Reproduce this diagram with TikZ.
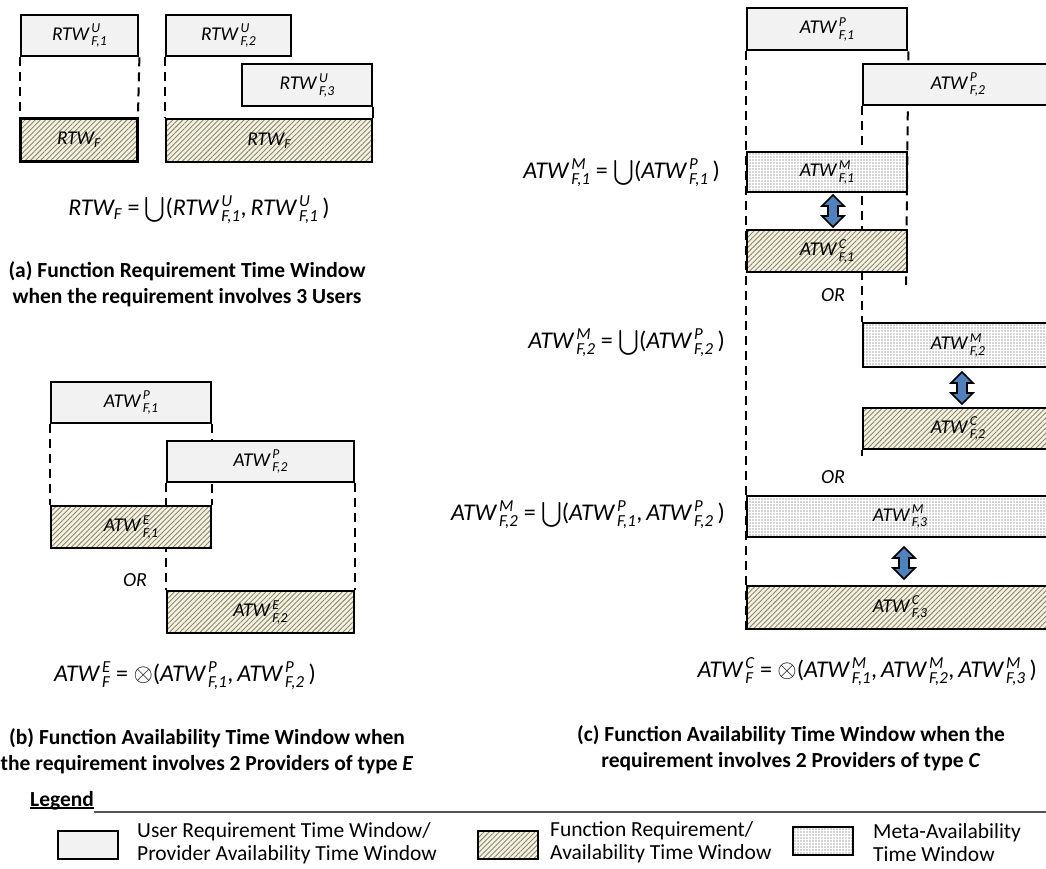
\documentclass[tikz,border=0pt]{standalone}
\usepackage{fontspec}
\usepackage{amsmath}
\setmainfont{Carlito}
\usetikzlibrary{patterns,patterns.meta}

\definecolor{winfill}{HTML}{F2F2F2}
\definecolor{hatchbg}{HTML}{F4F2E6}
\definecolor{hatchln}{HTML}{8E8862}
\definecolor{dotcol}{HTML}{4A4A4A}
\definecolor{arrowblue}{HTML}{4F81BD}
\definecolor{rulegray}{HTML}{555555}

\pgfdeclarelayer{bg}
\pgfsetlayers{bg,main}

% time-window symbol with super- and subscript
\newcommand{\twin}[3]{$\text{\itshape #1}^{\,\text{\itshape #2}}_{\,\text{\itshape #3}}$}
\newcommand{\twsub}[2]{$\text{\itshape #1}_{\text{\itshape #2}}$}
\newcommand{\opunion}{$\bigcup$}
\newcommand{\opprod}{$\otimes$}
\newcommand{\sep}{,\,}

\newcommand{\lblfont}{\fontsize{19.5}{22}\selectfont}
\newcommand{\eqfont}{\fontsize{24}{26}\selectfont}
\newcommand{\capfont}{\fontsize{21.5}{26.5}\selectfont\bfseries}
\newcommand{\legfont}{\fontsize{21.5}{23}\selectfont}

\tikzset{
  box/.style={draw=black, line width=2.4pt, inner sep=0pt, anchor=north west, font=\lblfont},
  userwin/.style={box, fill=winfill},
  funcwin/.style={box, preaction={fill=hatchbg}, pattern={Lines[angle=45,distance=3.6pt,line width=0.9pt]}, pattern color=hatchln},
  metawin/.style={box, preaction={fill=white}, pattern={Dots[distance=3pt,radius=0.6pt]}, pattern color=dotcol},
  guide/.style={line width=2pt, dash pattern=on 9pt off 6pt},
  tick/.style={line width=2pt},
  dblarr/.style={draw=black, line width=1.6pt, fill=arrowblue, line join=miter},
  eq/.style={font=\eqfont, inner sep=0pt},
  ortext/.style={font=\fontsize{20}{22}\selectfont\itshape, inner sep=0pt},
  caption/.style={font=\capfont, align=center, inner sep=0pt},
  legtext/.style={font=\legfont, align=left, anchor=west, inner sep=0pt},
}

% vertical double block arrow centred on a named coordinate
\newcommand{\vdblarrow}[1]{%
  \draw[dblarr, shift={(#1)}] (0,-16) -- (11,-5) -- (5,-5) -- (5,5) -- (11,5) -- (0,16)
        -- (-11,5) -- (-5,5) -- (-5,-5) -- (-11,-5) -- cycle;}

\begin{document}
\begin{tikzpicture}[x=1pt,y=-1pt]
\useasboundingbox (0,0) rectangle (1046,868);

% ---------- (a) requirement time window ----------
\node[userwin, minimum width=117pt, minimum height=41pt] (u1) at (20,14) {\twin{RTW}{U}{F,1}};
\node[userwin, minimum width=125pt, minimum height=41pt] (u2) at (165,14) {\twin{RTW}{U}{F,2}};
\node[userwin, minimum width=130pt, minimum height=42pt] (u3) at (241,63) {\twin{RTW}{U}{F,3}};
\node[funcwin, minimum width=117pt, minimum height=43pt] (fa1) at (20,118) {\twsub{RTW}{F}};
\node[funcwin, minimum width=206pt, minimum height=43pt] (fa2) at (165,118) {\twsub{RTW}{F}};
\begin{pgfonlayer}{bg}
  \draw[guide] (u1.south west) -- (fa1.north west);
  \draw[guide] (u1.south east) -- (fa1.north east);
  \draw[guide] (u2.south west) -- (fa2.north west);
  \draw[tick] (u3.south east) -- (fa2.north east);
\end{pgfonlayer}
\node[eq] (eqa) at (199,210) {\twsub{RTW}{F}\ = \opunion(\twin{RTW}{U}{F,1}\sep\twin{RTW}{U}{F,1}\,)};
\node[caption] (capa) at (187,284) {(a) Function Requirement Time Window\\when the requirement involves 3 Users};

% ---------- (b) availability, providers of type E ----------
\node[userwin, minimum width=160pt, minimum height=41pt] (bp1) at (50,381) {\twin{ATW}{P}{F,1}};
\node[userwin, minimum width=187pt, minimum height=41pt] (bp2) at (166,440) {\twin{ATW}{P}{F,2}};
\node[funcwin, minimum width=160pt, minimum height=42pt] (be1) at (50,505) {\twin{ATW}{E}{F,1}};
\node[funcwin, minimum width=187pt, minimum height=42pt] (be2) at (166,590) {\twin{ATW}{E}{F,2}};
\begin{pgfonlayer}{bg}
  \draw[guide] (bp1.south west) -- (be1.north west);
  \draw[guide] (bp1.south east) -- (be1.north east);
  \draw[guide] (bp2.south west) -- (be2.north west);
  \draw[guide] (bp2.south east) -- (be2.north east);
\end{pgfonlayer}
\node[ortext] (orb) at (135,580) {OR};
\node[eq] (eqb) at (185,676) {\twin{ATW}{E}{F}\ = \opprod(\twin{ATW}{P}{F,1}\sep\twin{ATW}{P}{F,2}\,)};
\node[caption] (capb) at (207,751) {(b) Function Availability Time Window when\\the requirement involves 2 Providers of type \textit{E}};

% ---------- (c) availability, providers of type C ----------
\node[userwin, minimum width=160pt, minimum height=42pt] (cp1) at (746,7) {\twin{ATW}{P}{F,1}};
\node[userwin, minimum width=190pt, minimum height=41pt] (cp2) at (862,63) {\twin{ATW}{P}{F,2}};
\node[metawin, minimum width=160pt, minimum height=40pt] (cm1) at (746,151) {\twin{ATW}{M}{F,1}};
\node[funcwin, minimum width=160pt, minimum height=42pt] (cc1) at (746,229) {\twin{ATW}{C}{F,1}};
\node[metawin, minimum width=190pt, minimum height=44pt] (cm2) at (862,322) {\twin{ATW}{M}{F,2}};
\node[funcwin, minimum width=190pt, minimum height=41pt] (cc2) at (862,407) {\twin{ATW}{C}{F,2}};
\node[metawin, minimum width=306pt, minimum height=41pt] (cm3) at (746,495) {\twin{ATW}{M}{F,3}};
\node[funcwin, minimum width=306pt, minimum height=43pt] (cc3) at (746,585) {\twin{ATW}{C}{F,3}};

\coordinate (ar1) at (833,211);
\coordinate (ar2) at (962,388);
\coordinate (ar3) at (904,563);
\vdblarrow{ar1}
\vdblarrow{ar2}
\vdblarrow{ar3}

\coordinate (endL) at (746,636);
\coordinate (endR) at (906,285);
\coordinate (endM) at (862,456);
\begin{pgfonlayer}{bg}
  \draw[guide] (cp1.south west) -- (endL);
  \draw[guide] (cp1.south east) -- (endR);
  \draw[guide] (cp2.south west) -- (cm2.north west);
  \draw[tick] (cc2.south west) -- (endM);
\end{pgfonlayer}

\node[ortext] (orc1) at (833,295) {OR};
\node[ortext] (orc2) at (833,477) {OR};

\node[eq, anchor=east] (eqm1) at (720,173) {\twin{ATW}{M}{F,1}\ = \opunion(\twin{ATW}{P}{F,1}\,)};
\node[eq, anchor=east] (eqm2) at (725,343) {\twin{ATW}{M}{F,2}\ = \opunion(\twin{ATW}{P}{F,2}\,)};
\node[eq, anchor=east] (eqm3) at (725,515) {\twin{ATW}{M}{F,2}\ = \opunion(\twin{ATW}{P}{F,1}\sep\twin{ATW}{P}{F,2}\,)};
\node[eq, anchor=east] (eqc) at (1037,672) {\twin{ATW}{C}{F}\ = \opprod(\twin{ATW}{M}{F,1}\sep\twin{ATW}{M}{F,2}\sep\twin{ATW}{M}{F,3}\,)};
\node[caption] (capc) at (791,748) {(c) Function Availability Time Window when the\\requirement involves 2 Providers of type \textit{C}};

% ---------- legend ----------
\node[font=\fontsize{21.5}{22}\selectfont\bfseries, anchor=south west, inner sep=0pt] (leg) at (30,810) {Legend};
\coordinate (ruleend) at (1046,812);
\draw[rulegray, line width=1.3pt] (leg.south east) ++(0,2) -- (ruleend);
\draw[black, line width=1.5pt] ([yshift=2pt]leg.south west) -- ([yshift=2pt]leg.south east);

\node[userwin, minimum width=60pt, minimum height=28pt] (k1) at (57,830) {};
\node[legtext] (k1t) at (137,843) {User Requirement Time Window/\\Provider Availability Time Window};
\node[funcwin, minimum width=60pt, minimum height=28pt] (k2) at (477,830) {};
\node[legtext] (k2t) at (550,842) {Function Requirement/\\Availability Time Window};
\node[metawin, minimum width=60pt, minimum height=28pt] (k3) at (792,826) {};
\node[legtext] (k3t) at (873,843) {Meta-Availability\\Time Window};
\end{tikzpicture}
\end{document}
